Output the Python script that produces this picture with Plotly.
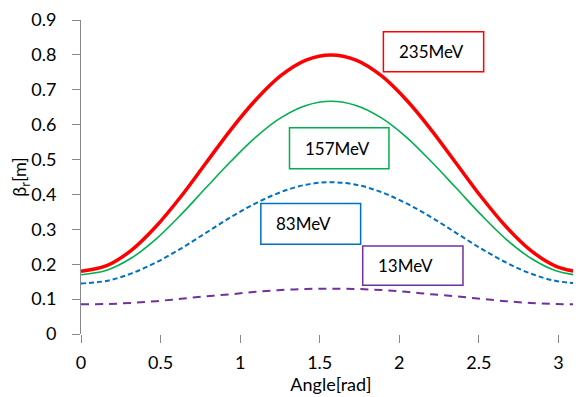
import plotly.graph_objects as go

angle = [0.000, 0.157, 0.314, 0.471, 0.628, 0.785, 0.942, 1.100, 1.257, 1.414, 1.571,
         1.728, 1.885, 2.042, 2.199, 2.356, 2.513, 2.670, 2.827, 2.985, 3.142]
beta_235 = [0.180, 0.195, 0.239, 0.308, 0.394, 0.490, 0.586, 0.672, 0.741, 0.785, 0.800,
            0.785, 0.741, 0.672, 0.586, 0.490, 0.394, 0.308, 0.239, 0.194, 0.177]
beta_157 = [0.170, 0.182, 0.217, 0.272, 0.342, 0.419, 0.495, 0.565, 0.620, 0.655, 0.667,
            0.655, 0.620, 0.565, 0.495, 0.419, 0.342, 0.272, 0.217, 0.181, 0.167]
beta_83 = [0.145, 0.152, 0.173, 0.205, 0.245, 0.290, 0.335, 0.375, 0.407, 0.428, 0.435,
           0.428, 0.407, 0.375, 0.335, 0.290, 0.245, 0.205, 0.173, 0.152, 0.145]
beta_13 = [0.085, 0.086, 0.089, 0.094, 0.101, 0.108, 0.114, 0.121, 0.126, 0.129, 0.130,
           0.129, 0.126, 0.121, 0.114, 0.108, 0.101, 0.094, 0.089, 0.086, 0.085]

labels = ["235MeV", "157MeV", "83MeV", "13MeV"]
colors = ["#FF0000", "#00B050", "#0070C0", "#7030A0"]
series = [beta_235, beta_157, beta_83, beta_13]
widths = [3.5, 1.6, 2, 2]
dashes = ["solid", "solid", "5px,3px", "8px,6px"]

x_ticks = [0, 0.5, 1, 1.5, 2, 2.5, 3]
y_ticks = [0, 0.1, 0.2, 0.3, 0.4, 0.5, 0.6, 0.7, 0.8, 0.9]

FONT = "Lato"
fig = go.Figure()
for name, ys, c, w, d in zip(labels, series, colors, widths, dashes):
    fig.add_trace(go.Scatter(x=angle, y=ys, mode="lines", name=name,
                             line=dict(color=c, width=w, dash=d, shape="spline"),
                             showlegend=False))

# label boxes (x0, x1, y0, y1 in axis units)
boxes = [
    (1.90, 2.53, 0.752, 0.866),
    (1.31, 1.935, 0.474, 0.591),
    (1.13, 1.757, 0.257, 0.374),
    (1.77, 2.40, 0.140, 0.252),
]
for (x0, x1, y0, y1), lab, c in zip(boxes, labels, colors):
    fig.add_shape(type="rect", x0=x0, x1=x1, y0=y0, y1=y1, xref="x", yref="y",
                  line=dict(color=c, width=1.5), fillcolor="white", layer="above")
    fig.add_annotation(x=x0 + 0.085, y=(y0 + y1) / 2, xref="x", yref="y", text=lab,
                       showarrow=False, xanchor="left", yanchor="middle",
                       font=dict(family=FONT, size=17, color="#000000"))

# small extension of the vertical axis line below zero
fig.add_shape(type="line", xref="x", x0=0, x1=0, yref="y", ysizemode="pixel",
              yanchor=0, y0=0, y1=-8, line=dict(color="#888888", width=1))

# the page body adds an 8px offset, so the figure is sized to the remaining area
fig.update_layout(
    width=573, height=389,
    margin=dict(l=73, r=0, t=12, b=63, autoexpand=False),
    paper_bgcolor="white", plot_bgcolor="white",
    font=dict(family=FONT, size=18, color="#000000"),
)
fig.update_xaxes(range=[0, 3.1416], tickvals=x_ticks, ticktext=[f"{v:g}" for v in x_ticks],
                 ticks="outside", ticklen=8, tickcolor="#888888", showgrid=False,
                 zeroline=False, showline=False, automargin=False,
                 ticklabelstandoff=4,
                 title=dict(text="Angle[rad]", standoff=3, font=dict(size=18)))
fig.update_yaxes(range=[0, 0.9], tickvals=y_ticks, ticktext=[f"{v:g}" for v in y_ticks],
                 ticks="outside", ticklen=8, tickcolor="#888888", showgrid=False,
                 zeroline=False, showline=True, linecolor="#888888", linewidth=1,
                 automargin=False, ticklabelstandoff=12,
                 title=dict(text="β<sub>r</sub>[m]", standoff=2, font=dict(size=18)))

fig.write_html("out.html")
